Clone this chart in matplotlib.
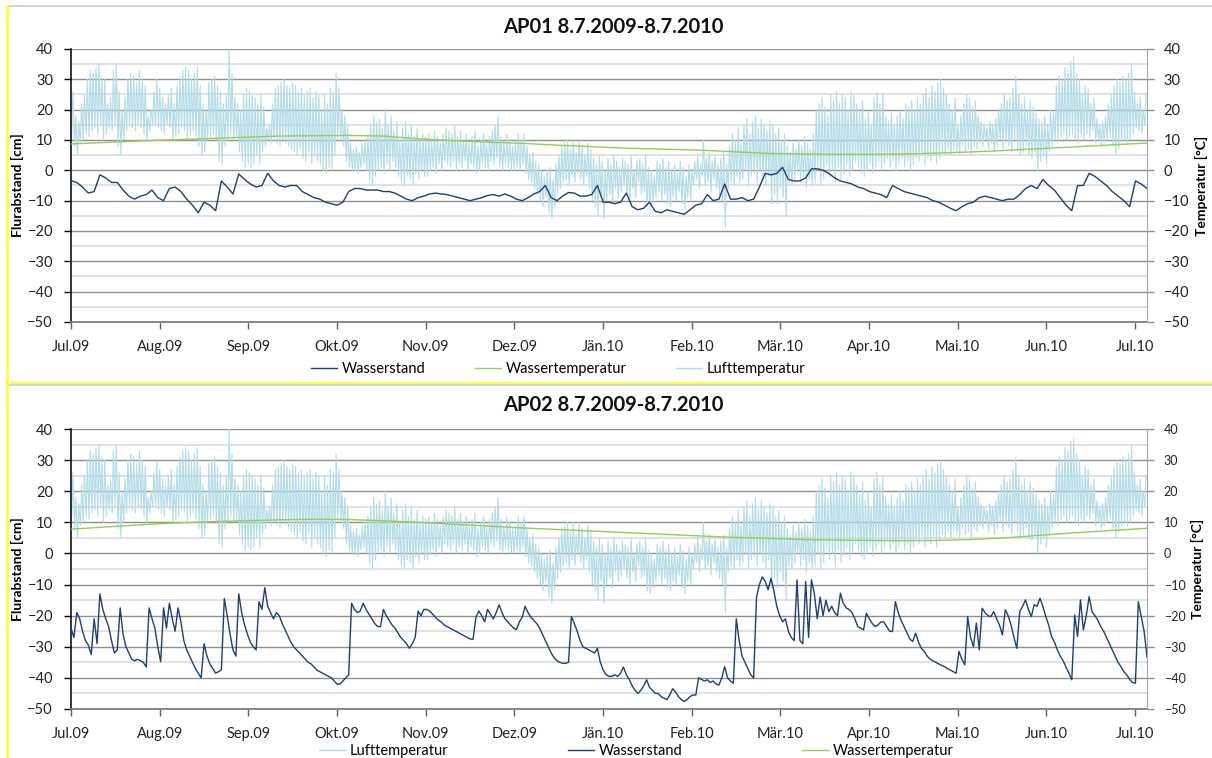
import numpy as np
import matplotlib
matplotlib.use('Agg')
from matplotlib import pyplot as plt
from matplotlib.lines import Line2D

plt.rcParams['font.family'] = ['Lato', 'DejaVu Sans']

months = ['Jul.09', 'Aug.09', 'Sep.09', 'Okt.09', 'Nov.09', 'Dez.09', 'Jän.10',
          'Feb.10', 'Mär.10', 'Apr.10', 'Mai.10', 'Jun.10', 'Jul.10']

# Lufttemperatur, daily max / min (°C), one value per day
luft_max = [
    26, 18, 16, 22, 25, 30, 33, 32, 34, 35, 31, 30, 22, 24, 33, 35, 26, 20, 24, 30,
    32, 31, 29, 33, 30, 28, 18, 20, 26, 30, 27,                      # Jul
    24, 22, 25, 27, 22, 28, 31, 33, 34, 33, 30, 32, 34, 28, 22, 20, 29, 30, 31, 28,
    26, 22, 25, 40, 32, 24, 22, 20, 25, 27, 26,                      # Aug
    25, 24, 22, 25, 21, 14, 15, 22, 27, 28, 29, 30, 28, 27, 29, 28, 26, 27, 25, 26,
    27, 24, 26, 25, 20, 25, 22, 27, 26, 32,                          # Sep
    27, 20, 18, 15, 9, 7, 8, 6, 9, 10, 12, 15, 18, 16, 17, 14, 20, 15, 18, 13,
    16, 10, 14, 16, 12, 15, 11, 14, 10, 12, 11,                      # Okt
    12, 10, 13, 11, 9, 12, 14, 13, 12, 15, 11, 13, 10, 12, 9, 11, 13, 8, 10, 12,
    9, 11, 13, 15, 18, 11, 9, 12, 10, 8,                             # Nov
    9, 12, 10, 12, 8, 5, 6, 3, 2, 0, -2, 0, 1, -3, 2, 5, 8, 9, 10, 7,
    10, 6, 10, 8, 5, 9, 7, 4, 2, 5, 3,                               # Dez
    0, 4, 2, 5, 3, 1, 4, 3, 2, 5, 0, 3, 4, 2, 5, 1, 0, -2, 3, 2,
    4, 1, 3, 0, 2, -1, 3, 1, -2, 2, 0,                               # Jän
    3, 5, 2, 10, 4, 6, 3, 5, 2, 4, 6, 2, 8, 12, 10, 14, 9, 15, 17, 12,
    16, 18, 14, 17, 15, 13, 16, 15,                                  # Feb
    12, 14, 10, 12, 8, 6, 9, 7, 10, 8, 11, 9, 7, 12, 20, 22, 24, 21, 18, 25,
    23, 26, 22, 25, 24, 20, 26, 25, 22, 19, 23,                      # Mär
    17, 20, 15, 24, 26, 22, 25, 18, 16, 19, 15, 18, 20, 17, 22, 21, 23, 20, 24, 22,
    25, 27, 24, 28, 26, 29, 30, 27, 25, 22,                          # Apr
    20, 24, 15, 18, 22, 25, 24, 21, 23, 18, 16, 15, 14, 16, 15, 17, 20, 22, 25, 23,
    24, 27, 31, 25, 22, 24, 20, 23, 21, 19, 17,                      # Mai
    16, 18, 15, 20, 19, 28, 31, 30, 34, 33, 36, 37, 32, 30, 25, 28, 27, 22, 24, 17,
    15, 16, 18, 22, 25, 28, 30, 29, 31, 30,                          # Jun
    32, 35, 26, 22, 24, 20, 25,                                      # Jul
]
luft_min = [
    12, 8, 5, 9, 10, 12, 11, 13, 14, 12, 15, 10, 12, 14, 13, 15, 8, 5, 10, 13,
    15, 14, 13, 15, 14, 12, 10, 13, 15, 15, 14,
    13, 12, 15, 14, 10, 11, 12, 14, 13, 10, 12, 13, 11, 8, 5, 6, 10, 11, 12, 10,
    3, 2, 8, 10, 12, 10, 11, 6, 3, 1, 2,
    1, 2, 5, 2, 6, 8, 10, 9, 10, 9, 8, 10, 9, 8, 7, 6, 5, 7, 4, 3,
    6, 2, 5, 3, 2, 0, -1, 1, 0, 5,
    10, 10, 8, 3, 1, 0, 0, -1, 1, 2, 0, -3, -5, -2, 0, 1, -1, 2, 0, 3,
    1, -2, -4, -5, -2, -3, -5, -1, -3, 0, -2,
    -2, 0, 1, -1, 2, 0, 3, 2, 1, 3, 0, 2, 1, 3, 0, 2, 1, -1, 0, 2,
    1, 0, 3, 2, 4, 1, 0, 2, 1, 0,
    0, 1, 0, 2, -1, -3, -4, -6, -8, -10, -12, -9, -14, -16, -12, -8, -6, -4, -3, -5,
    -2, -4, -1, -3, -5, -2, -6, -10, -12, -15, -9,
    -16, -10, -8, -11, -6, -9, -7, -5, -8, -10, -6, -9, -4, -8, -7, -12, -13, -11, -9, -7,
    -10, -8, -11, -12, -9, -10, -7, -11, -13, -9, -10,
    -5, -3, -6, -2, -5, -4, -7, -3, -6, -8, -10, -19, -6, -4, -5, -2, -4, -3, 0, -5,
    -2, -1, -4, 0, -3, -5, -2, -11,
    -8, -11, -6, -9, -15, -4, -5, -3, 0, -4, -2, -6, -3, -5, -4, 0, -5, -3, 2, -2,
    0, -4, 1, -3, -1, 2, -2, 0, 3, 1, -1,
    -2, 0, 2, -1, 1, 3, 0, 2, 4, 1, 3, 0, 2, 4, 1, 3, 0, 2, 4, 3,
    5, 2, 4, 3, 5, 2, 4, 6, 5, 7,
    5, 7, 6, 5, 8, 6, 7, 5, 8, 7, 9, 8, 10, 7, 9, 6, 8, 10, 7, 9,
    8, 6, 10, 7, 5, 6, 8, 5, 4, 6, 0,
    3, 5, 2, 6, 8, 10, 9, 11, 12, 10, 11, 12, 10, 9, 11, 10, 12, 11, 13, 9,
    10, 8, 9, 10, 11, 8, 5, 7, 9, 10,
    9, 10, 12, 14, 13, 12, 15,
]

# Wassertemperatur (°C), one value every 12 days
wt_ap01 = [8.7, 9.2, 9.7, 10.1, 10.5, 10.9, 11.3, 11.4, 11.5, 11.3, 10.4, 9.8, 9.3, 8.9,
           8.3, 7.8, 7.3, 7.0, 6.7, 6.2, 5.6, 5.4, 5.3, 5.3, 5.4, 5.7, 6.1, 6.6, 7.2,
           7.8, 8.4, 9.0]
wt_ap02 = [7.8, 8.5, 9.2, 9.8, 10.2, 10.5, 10.8, 11.0, 10.9, 10.5, 10.0, 9.4, 8.8, 8.2,
           7.7, 7.2, 6.7, 6.2, 5.7, 5.2, 4.9, 4.5, 4.3, 4.2, 4.1, 4.2, 4.5, 5.1, 5.9,
           6.7, 7.4, 8.1]

# Wasserstand AP01 (cm), one value every 2 days
ws_ap01 = [
    -3.4, -4.0, -5.5, -7.5, -7.0, -1.5, -2.5, -4.0, -4.0, -6.5,
    -8.5, -9.5, -8.5, -8.0, -6.5, -9.0, -10.0, -6.0, -5.5, -7.0,
    -9.5, -11.5, -14.0, -10.5, -11.5, -13.3, -3.5, -5.5, -7.8, -1.2,
    -3.0, -4.5, -5.5, -5.0, -1.0, -3.5, -5.0, -5.5, -5.0, -5.0,
    -7.0, -8.0, -9.0, -9.5, -10.5, -11.0, -11.5, -10.5, -7.0, -6.0,
    -6.0, -6.5, -6.5, -6.5, -7.0, -7.0, -7.5, -8.5, -9.5, -10.0,
    -9.0, -8.5, -7.8, -7.5, -7.8, -8.0, -8.5, -9.0, -9.5, -10.0,
    -9.5, -9.0, -8.3, -8.0, -8.5, -7.8, -8.5, -9.5, -10.0, -9.0,
    -7.8, -7.0, -5.0, -9.0, -10.0, -8.5, -7.3, -7.5, -8.5, -8.5,
    -8.0, -5.0, -10.5, -10.5, -11.0, -10.5, -7.5, -12.0, -13.0, -12.5,
    -10.5, -13.5, -14.0, -13.0, -13.5, -14.0, -14.5, -13.0, -11.5, -11.0,
    -8.0, -10.0, -9.5, -4.5, -9.5, -9.5, -9.0, -10.0, -9.5, -5.5,
    -1.0, -1.5, -1.0, 1.0, -3.0, -3.5, -3.5, -2.5, 0.5, 0.5,
    0.0, -1.0, -2.5, -3.5, -4.0, -4.5, -5.5, -6.0, -7.0, -7.5,
    -8.0, -9.0, -5.0, -6.0, -7.0, -7.5, -8.0, -8.5, -9.0, -10.0,
    -10.5, -11.5, -12.5, -13.3, -12.0, -11.0, -10.5, -9.0, -8.5, -9.0,
    -9.5, -10.0, -9.5, -9.5, -8.0, -6.0, -5.0, -6.0, -3.0, -5.0,
    -6.5, -9.0, -11.5, -13.3, -5.0, -5.0, -1.0, -2.0, -3.5, -5.0,
    -7.0, -8.5, -10.0, -12.0, -3.5, -4.5, -6.0,
]

# Wasserstand AP02 (cm), one value per day
ws_ap02 = [
    -24, -27, -19, -21, -25, -28, -29.5, -32.5, -21, -29,
    -13, -18, -21, -23.5, -28, -32, -31, -17.5, -26, -30,
    -32, -34, -34.5, -34, -34.5, -35, -36.5, -17.5, -21, -24,
    -30, -34.8, -17.5, -24, -16, -21, -25, -17.5, -22, -28,
    -31, -33, -35, -37, -38.5, -40, -29, -33, -35.5, -37,
    -38.5, -38, -37.4, -14.5, -20, -26, -31, -33, -13, -19,
    -23, -26, -28.5, -30, -31, -15.5, -18, -11, -17, -19,
    -21, -19, -20, -22.5, -24.5, -26.5, -28.5, -30, -31, -32,
    -33, -34, -35, -35.5, -36.5, -37.5, -38, -38.5, -39, -39.5,
    -40, -41, -42, -42, -41, -40, -39, -16, -18, -19,
    -18.5, -16, -18, -19.5, -21, -22.5, -23.5, -23.5, -18, -20,
    -21.5, -23, -24, -25.5, -27, -28, -29, -30.5, -29, -27,
    -18.5, -20, -18, -18, -18.5, -19.5, -20.5, -21.5, -22, -23,
    -23.5, -24, -24.5, -25, -25.5, -26, -26.5, -27, -27.5, -27.6,
    -20.5, -18.5, -20, -22, -18, -19.5, -21, -19, -16.5, -19,
    -21, -22, -23, -24, -24.5, -22, -20.5, -17, -19, -20.5,
    -21.5, -22.5, -24, -26, -28, -30, -32, -33.5, -34.5, -35,
    -35.3, -35.3, -35, -20.3, -22.5, -25, -28, -30, -30.5, -31,
    -31.5, -32, -30.5, -35, -37.5, -39, -39.5, -39.5, -39, -39.5,
    -38.5, -36.5, -39, -40.5, -42.5, -44, -45, -44, -42.5, -40.6,
    -43, -44, -45, -45, -46, -46.5, -47, -45.5, -43.5, -44.5,
    -46, -47, -47.6, -47, -46, -45.5, -45.5, -40, -40.5, -41,
    -40.6, -41.5, -41, -42, -42.3, -40, -36.4, -40, -41, -41.7,
    -21, -28, -33, -35, -37, -39, -40, -14, -10, -7.5,
    -9, -11.7, -8, -12, -17, -20, -22, -21, -25, -27,
    -28, -8.5, -28, -29, -9, -27, -8.5, -13, -21, -14,
    -20, -15, -18.7, -17, -19, -20, -12.8, -16, -17.5, -18,
    -19, -21, -23.5, -24, -24.6, -19.2, -21, -22.5, -23.5, -23,
    -22, -22, -23.5, -25, -25.1, -15.5, -19, -21.5, -23.5, -25.5,
    -27.5, -28.3, -25.6, -28.5, -30.5, -31.5, -33, -34, -34.5, -35,
    -35.5, -36, -36.4, -37, -37.5, -38, -38.5, -31.5, -34, -35.8,
    -20.3, -27, -30, -22.4, -31, -17.6, -19, -20, -20.3, -18.7,
    -21, -23, -26.2, -18.1, -20, -23, -27, -30.5, -18.7, -17,
    -14.9, -18, -20.3, -16.5, -17, -14.4, -17, -20.3, -23, -26.7,
    -28.5, -31, -33, -34.5, -36.5, -38.5, -40.6, -19.8, -26.7, -14.9,
    -24.6, -20, -13.9, -18.7, -20, -21.5, -23.5, -25, -27, -29,
    -31, -33, -35, -36.4, -38, -39, -40.5, -41.5, -41.7, -15.5,
    -20.3, -25, -33.2,
]

c_ws = '#1f3f73'
c_wt = '#92d050'
c_luft = '#b3dbe8'

W, H = 1212, 758
fig = plt.figure(figsize=(W / 100, H / 100), dpi=100)

n = min(len(luft_max), len(luft_min))
days = np.arange(n)
luft_x = np.column_stack([days + 0.25, days + 0.65]).ravel()
luft_y = np.column_stack([luft_min[:n], luft_max[:n]]).ravel()
month_pos = np.linspace(0, 367.8, 13)


def panel(top, bottom, title, title_y, ws, ws_step, wt, right_fs, right_lab_x):
    ax = fig.add_axes([71 / W, 1 - bottom / H, 1076 / W, (bottom - top) / H])
    ax.plot(luft_x, luft_y, color=c_luft, lw=0.8, zorder=2)
    ax.plot(np.arange(len(wt)) * 12, wt, color=c_wt, lw=1.0, zorder=3)
    ax.plot(np.arange(len(ws)) * ws_step, ws, color=c_ws, lw=1.0, zorder=4)
    ax.set_xlim(0, 372)
    ax.set_ylim(-50, 40)
    ax.set_yticks(range(-50, 41, 10))
    ax.set_yticks(range(-45, 40, 10), minor=True)
    ax.grid(which='major', axis='y', color='#8f8f8f', lw=1.0)
    ax.grid(which='minor', axis='y', color='#dedede', lw=1.3)
    ax.set_axisbelow(True)
    ax.set_xticks(month_pos, months)
    ax.tick_params(axis='x', length=5, width=1, color='#606060', pad=8, labelsize=10.5,
                   labelcolor='#222222')
    ax.tick_params(axis='y', which='major', length=5, width=1, pad=8, labelsize=10.5,
                   labelcolor='#222222')
    ax.tick_params(axis='y', which='minor', length=0)
    for s in ['top', 'right']:
        ax.spines[s].set_visible(False)
    ax.spines['left'].set_color('#111111')
    ax.spines['left'].set_linewidth(1.2)
    ax.spines['bottom'].set_color('#7f7f7f')
    ax.spines['bottom'].set_linewidth(1.3)
    ax.set_ylabel('Flurabstand [cm]', fontsize=10, fontweight='bold')
    ax.yaxis.set_label_coords(-47 / 1076, 0.5)

    ax2 = ax.twinx()
    ax2.set_ylim(-50, 40)
    ax2.set_yticks(range(-50, 41, 10))
    ax2.tick_params(axis='y', length=5, width=1, color='#8f8f8f', pad=7,
                    labelsize=right_fs, labelcolor='#222222')
    for s in ['top', 'left', 'bottom']:
        ax2.spines[s].set_visible(False)
    ax2.spines['right'].set_color('#a6a6a6')
    ax2.set_ylabel('Temperatur [°C]', fontsize=10, fontweight='bold', rotation=90)
    ax2.yaxis.set_label_coords((right_lab_x - 71) / 1076, 0.5)

    fig.text(613 / W, 1 - title_y / H, title, ha='center', va='center',
             fontsize=14.5, fontweight='bold', color='#111111')
    return ax


panel(49, 322, 'AP01 8.7.2009-8.7.2010', 27, ws_ap01, 2, wt_ap01, 10.5, 1195)
panel(429, 709, 'AP02 8.7.2009-8.7.2010', 405, ws_ap02, 1, wt_ap02, 9, 1191)

h_ws = Line2D([], [], color=c_ws, lw=1.0)
h_wt = Line2D([], [], color=c_wt, lw=1.0)
h_lu = Line2D([], [], color=c_luft, lw=1.0)

fig.legend([h_ws, h_wt, h_lu], ['Wasserstand', 'Wassertemperatur', 'Lufttemperatur'],
           loc='center', bbox_to_anchor=(558 / W, 1 - 369 / H), ncol=3, frameon=False,
           fontsize=10.5, handlelength=1.8, handletextpad=0.3, columnspacing=3.4)
fig.legend([h_lu, h_ws, h_wt], ['Lufttemperatur', 'Wasserstand', 'Wassertemperatur'],
           loc='center', bbox_to_anchor=(636 / W, 1 - 751 / H), ncol=3, frameon=False,
           fontsize=10.5, handlelength=1.8, handletextpad=0.3, columnspacing=8.2)

# chart-area borders
fig.add_artist(Line2D([7 / W, 1], [1 - 6 / H, 1 - 6 / H], color='#d4d4d4', lw=1.5))
fig.add_artist(Line2D([7 / W, 1], [1 - 385 / H, 1 - 385 / H], color='#d4d4d4', lw=1.5))
fig.add_artist(Line2D([7 / W, 1], [1 - 383 / H, 1 - 383 / H], color='#ffff33', lw=1.5))
fig.add_artist(Line2D([7 / W, 7 / W], [0, 1 - 6 / H], color='#ffff33', lw=2))

fig.savefig('out.png', dpi=100)
